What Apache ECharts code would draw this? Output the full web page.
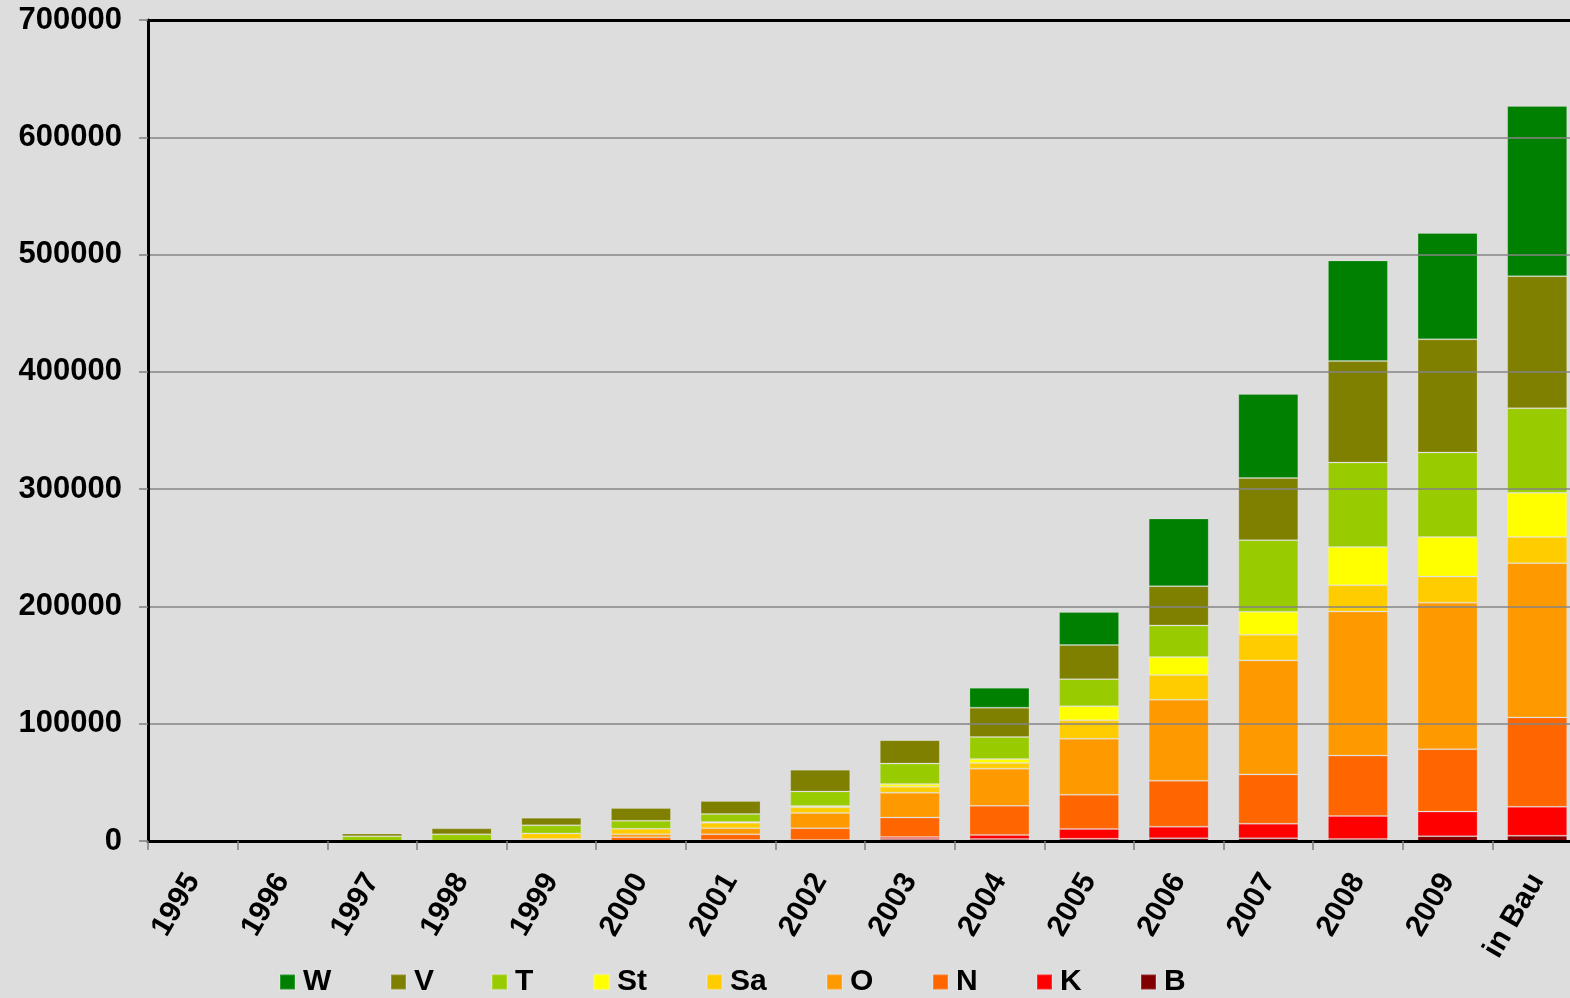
<!DOCTYPE html>
<html>
<head>
<meta charset="utf-8">
<script src="https://cdn.jsdelivr.net/npm/echarts@6/dist/echarts.min.js"></script>
<style>
  html, body { margin: 0; padding: 0; background: #DDDDDD; }
  #chart { width: 1570px; height: 998px; }
</style>
</head>
<body>
<div id="chart"></div>
<script>
const categories = ['1995','1996','1997','1998','1999','2000','2001','2002','2003','2004','2005','2006','2007','2008','2009','in Bau'];

const B  = [0,0,0,0,0,0,0,0,1700,1700,2000,2300,2300,1700,4100,4500];
const K  = [0,0,0,0,0,0,900,900,1700,3400,8300,9900,12500,19600,21000,24700];
const N  = [0,0,0,0,600,3100,4800,9900,16600,24900,29100,39200,42000,51500,53200,76200];
const O  = [0,0,0,0,1100,2600,5100,13100,21100,31700,47700,69100,97200,122900,124900,131500];
const Sa = [0,0,0,0,4800,4800,4800,4800,5200,4900,15800,21000,21900,22300,22300,22300];
const St = [0,0,0,0,0,0,600,1100,2300,3400,12000,15300,19600,32600,33700,37800];
const T  = [0,0,4000,5700,6900,6800,6800,12500,17400,18600,23100,27000,61000,72100,72100,72000];
const V  = [0,700,2300,5100,6500,10800,11100,18500,20000,25100,29100,33500,53000,86500,96400,112600];
const W  = [0,0,0,0,0,0,0,0,0,16900,28100,57700,71600,85800,90700,145100];

const legendOrder = ['W','V','T','St','Sa','O','N','K','B'];

const seriesDefs = [
  {name:'B',  data:B,  color:'#800000'},
  {name:'K',  data:K,  color:'#FF0000'},
  {name:'N',  data:N,  color:'#FF6600'},
  {name:'O',  data:O,  color:'#FF9900'},
  {name:'Sa', data:Sa, color:'#FFCC00'},
  {name:'St', data:St, color:'#FFFF00'},
  {name:'T',  data:T,  color:'#99CC00'},
  {name:'V',  data:V,  color:'#808000'},
  {name:'W',  data:W,  color:'#008000'}
];

const FONT = '"Liberation Sans", Arial, sans-serif';
const legendLeft = [279, 390, 491, 593, 706, 826, 932, 1036, 1140];

const chart = echarts.init(document.getElementById('chart'));
chart.setOption({
  backgroundColor: '#DDDDDD',
  animation: false,
  grid: { left: 148, top: 20, width: 1434, height: 821, containLabel: false, outerBoundsMode: 'none' },
  legend: legendOrder.map((n, i) => ({
    data: [n],
    left: legendLeft[i],
    top: 967,
    padding: 0,
    icon: 'rect',
    itemWidth: 15,
    itemHeight: 15,
    itemGap: 0,
    textStyle: { fontFamily: FONT, fontWeight: 'bold', fontSize: 30, color: '#000', padding: [0,0,0,3] }
  })),
  xAxis: [{
    type: 'category',
    data: categories,
    z: 10,
    axisLine: { show: true, lineStyle: { color: '#000', width: 3 } },
    axisTick: { show: true, length: 9, alignWithLabel: false, lineStyle: { color: '#808080', width: 1.5 } },
    axisLabel: { rotate: 60, margin: 35, fontFamily: FONT, fontWeight: 'bold', fontSize: 30, color: '#000', interval: 0 }
  }, {
    type: 'category',
    position: 'top',
    data: categories,
    z: 10,
    axisLine: { show: true, lineStyle: { color: '#000', width: 3 } },
    axisTick: { show: false },
    axisLabel: { show: false }
  }],
  yAxis: {
    type: 'value',
    min: 0,
    max: 700000,
    interval: 100000,
    z: 10,
    axisLine: { show: true, lineStyle: { color: '#000', width: 3 } },
    axisTick: { show: true, length: 9, lineStyle: { color: '#808080', width: 1.5 } },
    splitLine: { show: true, lineStyle: { color: '#858585', width: 1.5 } },
    axisLabel: { margin: 26, fontFamily: FONT, fontWeight: 'bold', fontSize: 31, color: '#000',
      formatter: v => String(v) }
  },
  series: seriesDefs.map(s => ({
    name: s.name,
    type: 'bar',
    stack: 'total',
    barWidth: 60,
    data: s.data.map(v => v === 0 ? '-' : v),
    itemStyle: { color: s.color, borderColor: 'rgba(255,255,255,0.18)', borderWidth: 1 }
  }))
});
</script>
</body>
</html>
